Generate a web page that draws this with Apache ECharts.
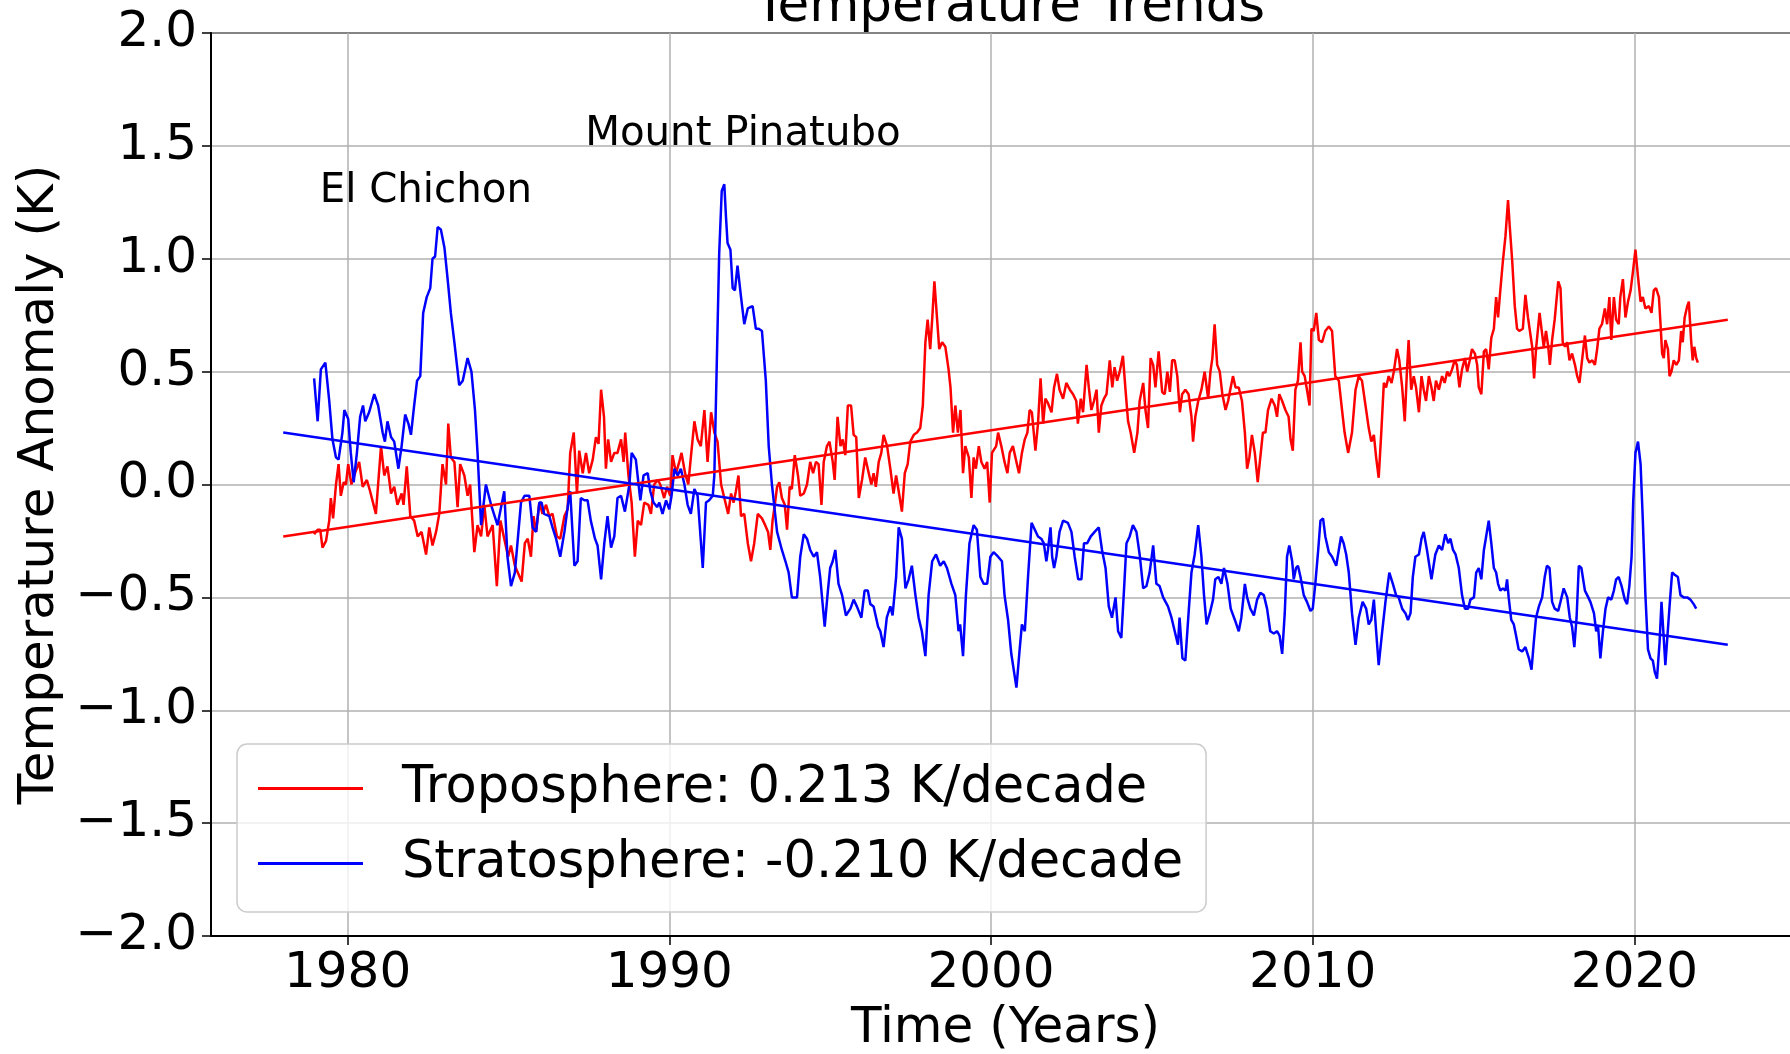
<!DOCTYPE html>
<html><head><meta charset="utf-8">
<script src="https://cdn.jsdelivr.net/npm/echarts@6/dist/echarts.min.js"></script>
<style>html,body{margin:0;padding:0;background:#fff}#chart{width:1790px;height:1054px}</style>
</head><body><div id="chart"></div>
<script>
// ---- tick labels ----
const xTicks = [1980, 1990, 2000, 2010, 2020];
const yTicks = [-2.0, -1.5, -1.0, -0.5, 0.0, 0.5, 1.0, 1.5, 2.0];

// ---- series names ----
const tropName = 'Troposphere: 0.213 K/decade';
const stratName = 'Stratosphere: -0.210 K/decade';

// ---- troposphere anomaly (K) ----
const tropYears = [
1978.96,1979.07,1979.15,1979.22,1979.33,1979.43,1979.48,1979.55,1979.64,1979.72,
1979.79,1979.88,1979.95,1980.02,1980.12,1980.23,1980.36,1980.47,1980.60,1980.70,
1980.88,1981.04,1981.14,1981.24,1981.35,1981.45,1981.55,1981.68,1981.74,1981.84,
1981.95,1982.07,1982.18,1982.30,1982.44,1982.54,1982.64,1982.75,1982.85,1982.95,
1983.06,1983.13,1983.21,1983.32,1983.42,1983.50,1983.63,1983.73,1983.81,1983.94,
1984.04,1984.15,1984.25,1984.35,1984.51,1984.64,1984.75,1984.87,1984.99,1985.08,
1985.20,1985.41,1985.51,1985.60,1985.70,1985.78,1985.86,1985.96,1986.06,1986.17,
1986.27,1986.37,1986.51,1986.61,1986.74,1986.84,1986.92,1987.03,1987.13,1987.20,
1987.31,1987.41,1987.51,1987.62,1987.72,1987.80,1987.88,1987.97,1988.03,1988.10,
1988.19,1988.29,1988.39,1988.50,1988.58,1988.63,1988.73,1988.83,1988.93,1989.02,
1989.12,1989.22,1989.35,1989.43,1989.53,1989.64,1989.72,1989.84,1989.93,1990.03,
1990.10,1990.21,1990.31,1990.38,1990.49,1990.59,1990.67,1990.78,1990.88,1990.98,
1991.09,1991.19,1991.30,1991.40,1991.50,1991.61,1991.71,1991.83,1991.92,1992.00,
1992.07,1992.15,1992.23,1992.33,1992.44,1992.54,1992.64,1992.75,1992.88,1992.98,
1993.07,1993.14,1993.21,1993.27,1993.35,1993.42,1993.50,1993.59,1993.66,1993.74,
1993.81,1993.90,1994.00,1994.07,1994.18,1994.28,1994.38,1994.47,1994.56,1994.64,
1994.73,1994.80,1994.90,1994.98,1995.08,1995.14,1995.23,1995.32,1995.39,1995.47,
1995.55,1995.65,1995.73,1995.81,1995.89,1995.99,1996.09,1996.20,1996.28,1996.35,
1996.42,1996.51,1996.59,1996.66,1996.77,1996.87,1996.97,1997.05,1997.13,1997.23,
1997.32,1997.41,1997.49,1997.60,1997.70,1997.80,1997.88,1997.96,1998.03,1998.11,
1998.17,1998.24,1998.32,1998.39,1998.48,1998.58,1998.68,1998.74,1998.82,1998.89,
1998.97,1999.05,1999.13,1999.20,1999.31,1999.39,1999.46,1999.53,1999.62,1999.70,
1999.80,1999.88,1999.96,2000.03,2000.16,2000.22,2000.32,2000.42,2000.51,2000.58,
2000.68,2000.79,2000.87,2000.96,2001.05,2001.13,2001.20,2001.27,2001.38,2001.46,
2001.54,2001.62,2001.69,2001.77,2001.88,2001.96,2002.05,2002.13,2002.24,2002.34,
2002.45,2002.55,2002.65,2002.70,2002.79,2002.86,2002.97,2003.04,2003.12,2003.20,
2003.28,2003.35,2003.43,2003.51,2003.59,2003.69,2003.77,2003.84,2003.92,2004.00,
2004.10,2004.18,2004.26,2004.34,2004.45,2004.55,2004.62,2004.73,2004.80,2004.88,
2004.96,2005.04,2005.11,2005.21,2005.32,2005.40,2005.48,2005.56,2005.63,2005.71,
2005.79,2005.87,2005.94,2006.04,2006.14,2006.23,2006.28,2006.35,2006.44,2006.54,
2006.64,2006.75,2006.82,2006.88,2006.95,2007.03,2007.11,2007.19,2007.29,2007.37,
2007.45,2007.52,2007.60,2007.70,2007.80,2007.89,2007.96,2008.03,2008.11,2008.20,
2008.29,2008.37,2008.45,2008.53,2008.61,2008.72,2008.82,2008.89,2008.96,2009.05,
2009.15,2009.25,2009.31,2009.38,2009.46,2009.54,2009.62,2009.67,2009.75,2009.82,
2009.90,2009.96,2010.03,2010.11,2010.19,2010.29,2010.39,2010.50,2010.60,2010.70,
2010.81,2010.91,2010.99,2011.10,2011.22,2011.33,2011.43,2011.53,2011.64,2011.74,
2011.82,2011.90,2011.97,2012.05,2012.13,2012.21,2012.28,2012.36,2012.45,2012.52,
2012.62,2012.69,2012.78,2012.86,2012.93,2012.98,2013.06,2013.14,2013.21,2013.30,
2013.38,2013.45,2013.52,2013.61,2013.69,2013.76,2013.83,2013.92,2014.02,2014.10,
2014.18,2014.25,2014.33,2014.41,2014.48,2014.56,2014.64,2014.73,2014.80,2014.88,
2014.95,2015.04,2015.11,2015.16,2015.24,2015.32,2015.39,2015.47,2015.55,2015.63,
2015.70,2015.76,2015.83,2015.91,2015.99,2016.07,2016.12,2016.20,2016.28,2016.35,
2016.42,2016.53,2016.61,2016.69,2016.77,2016.82,2016.88,2016.94,2017.05,2017.11,
2017.18,2017.25,2017.32,2017.37,2017.44,2017.52,2017.63,2017.70,2017.77,2017.84,
2017.91,2017.98,2018.06,2018.15,2018.22,2018.29,2018.37,2018.46,2018.53,2018.60,
2018.69,2018.77,2018.84,2018.91,2018.99,2019.08,2019.15,2019.22,2019.28,2019.36,
2019.43,2019.51,2019.56,2019.64,2019.72,2019.80,2019.88,2019.95,2020.03,2020.11,
2020.19,2020.26,2020.34,2020.45,2020.53,2020.60,2020.67,2020.76,2020.81,2020.86,
2020.91,2020.96,2021.04,2021.09,2021.15,2021.22,2021.30,2021.38,2021.45,2021.50,
2021.56,2021.64,2021.69,2021.76,2021.81,2021.86,2021.92,2021.97
];
const tropValues = [
-0.22,-0.20,-0.20,-0.28,-0.25,-0.16,-0.06,-0.15,0.00,0.09,
-0.05,0.01,0.00,0.09,0.00,0.05,0.10,-0.01,0.02,-0.03,
-0.13,0.17,0.04,0.08,-0.04,-0.01,-0.09,-0.04,-0.09,0.08,
-0.14,-0.16,-0.23,-0.21,-0.31,-0.19,-0.27,-0.21,-0.13,0.09,
0.00,0.27,0.12,0.10,-0.10,0.09,0.04,-0.05,0.00,-0.30,
-0.18,-0.23,-0.09,-0.23,-0.18,-0.45,-0.16,-0.24,-0.32,-0.27,
-0.36,-0.43,-0.26,-0.24,-0.32,-0.14,-0.21,-0.08,-0.13,-0.09,
-0.14,-0.13,-0.23,-0.24,-0.14,-0.11,0.14,0.23,-0.04,0.15,
0.05,0.14,0.05,0.11,0.21,0.18,0.42,0.30,0.07,0.20,
0.10,0.14,0.14,0.20,0.10,0.23,0.04,-0.08,-0.32,-0.16,
-0.18,-0.08,-0.09,-0.13,0.00,0.02,0.00,-0.06,-0.01,-0.05,
0.13,0.05,0.10,0.14,0.05,0.00,0.12,0.28,0.20,0.17,
0.33,0.10,0.32,0.23,0.19,0.00,-0.06,-0.13,-0.04,-0.08,
-0.03,0.04,-0.14,-0.13,-0.26,-0.34,-0.26,-0.13,-0.15,-0.18,
-0.21,-0.29,-0.16,-0.10,-0.01,0.01,-0.06,-0.09,-0.20,-0.01,
-0.02,0.13,0.04,-0.05,-0.04,0.00,0.10,0.05,0.10,0.09,
-0.09,0.10,0.17,0.19,0.10,0.02,0.30,0.17,0.20,0.13,
0.35,0.35,0.22,0.21,-0.06,0.02,0.12,0.05,0.00,0.05,
-0.01,0.10,0.14,0.22,0.17,0.07,-0.04,0.04,-0.03,-0.12,
0.05,0.09,0.19,0.22,0.23,0.25,0.35,0.63,0.73,0.60,
0.73,0.90,0.74,0.60,0.63,0.61,0.51,0.43,0.23,0.35,
0.23,0.33,0.05,0.17,0.12,-0.06,0.12,0.07,0.17,0.10,
0.07,0.10,-0.08,0.14,0.17,0.23,0.17,0.10,0.05,0.14,
0.17,0.10,0.05,0.14,0.20,0.23,0.33,0.32,0.15,0.27,
0.47,0.27,0.38,0.36,0.32,0.43,0.49,0.42,0.38,0.45,
0.42,0.40,0.37,0.27,0.38,0.32,0.53,0.43,0.33,0.37,
0.42,0.23,0.35,0.38,0.40,0.55,0.43,0.52,0.46,0.50,
0.57,0.42,0.28,0.23,0.14,0.23,0.37,0.45,0.33,0.25,
0.56,0.53,0.43,0.59,0.41,0.40,0.50,0.41,0.55,0.55,
0.48,0.32,0.40,0.42,0.40,0.30,0.19,0.30,0.37,0.42,
0.50,0.38,0.50,0.56,0.71,0.53,0.50,0.40,0.33,0.37,
0.43,0.48,0.43,0.43,0.37,0.23,0.07,0.12,0.22,0.14,
0.01,0.12,0.23,0.23,0.33,0.38,0.35,0.30,0.40,0.37,
0.33,0.30,0.20,0.15,0.42,0.46,0.63,0.50,0.48,0.42,
0.35,0.69,0.68,0.76,0.64,0.63,0.68,0.70,0.68,0.48,
0.46,0.33,0.23,0.14,0.23,0.42,0.48,0.46,0.35,0.25,
0.19,0.22,0.12,0.03,0.23,0.45,0.43,0.48,0.45,0.50,
0.60,0.55,0.43,0.28,0.51,0.64,0.42,0.48,0.43,0.32,
0.48,0.42,0.37,0.48,0.43,0.37,0.46,0.42,0.48,0.45,
0.50,0.48,0.51,0.55,0.53,0.43,0.51,0.56,0.50,0.55,
0.60,0.58,0.53,0.43,0.40,0.59,0.60,0.51,0.65,0.69,
0.83,0.74,0.86,0.99,1.10,1.26,1.15,0.99,0.79,0.69,
0.68,0.69,0.84,0.74,0.66,0.61,0.47,0.60,0.76,0.69,
0.61,0.68,0.61,0.53,0.64,0.73,0.90,0.87,0.63,0.61,
0.63,0.55,0.58,0.53,0.48,0.45,0.55,0.66,0.56,0.54,
0.55,0.53,0.60,0.69,0.71,0.78,0.71,0.83,0.64,0.83,
0.73,0.71,0.83,0.91,0.74,0.81,0.86,0.94,1.04,0.92,
0.81,0.83,0.78,0.79,0.76,0.86,0.87,0.83,0.71,0.58,
0.56,0.64,0.60,0.48,0.50,0.55,0.53,0.55,0.68,0.63,
0.74,0.79,0.81,0.64,0.55,0.61,0.56,0.54
];

// ---- stratosphere anomaly (K) ----
const stratYears = [
1978.96,1979.07,1979.17,1979.31,1979.43,1979.53,1979.64,1979.72,1979.84,1979.90,
1980.02,1980.10,1980.19,1980.29,1980.39,1980.48,1980.55,1980.67,1980.83,1980.95,
1981.09,1981.16,1981.24,1981.35,1981.45,1981.58,1981.68,1981.79,1981.89,1981.97,
1982.07,1982.16,1982.26,1982.35,1982.46,1982.57,1982.64,1982.72,1982.80,1982.90,
1983.01,1983.11,1983.21,1983.32,1983.47,1983.58,1983.73,1983.85,1983.96,1984.04,
1984.15,1984.30,1984.46,1984.66,1984.87,1984.97,1985.08,1985.20,1985.39,1985.50,
1985.65,1985.75,1985.86,1985.96,1986.03,1986.11,1986.27,1986.37,1986.48,1986.61,
1986.74,1986.86,1986.92,1987.05,1987.15,1987.25,1987.36,1987.46,1987.56,1987.69,
1987.77,1987.88,1987.98,1988.08,1988.19,1988.29,1988.39,1988.50,1988.62,1988.76,
1988.83,1988.96,1989.10,1989.20,1989.33,1989.41,1989.51,1989.62,1989.69,1989.79,
1989.90,1990.00,1990.07,1990.16,1990.26,1990.36,1990.47,1990.57,1990.67,1990.78,
1990.88,1991.04,1991.14,1991.24,1991.35,1991.40,1991.47,1991.55,1991.63,1991.71,
1991.76,1991.81,1991.90,1991.97,1992.04,1992.12,1992.23,1992.33,1992.44,1992.59,
1992.69,1992.78,1992.88,1993.00,1993.09,1993.19,1993.35,1993.50,1993.61,1993.71,
1993.81,1993.97,1994.07,1994.18,1994.28,1994.38,1994.49,1994.59,1994.69,1994.83,
1994.93,1995.00,1995.08,1995.16,1995.26,1995.37,1995.49,1995.63,1995.73,1995.83,
1995.97,1996.07,1996.17,1996.25,1996.35,1996.49,1996.56,1996.66,1996.76,1996.87,
1996.94,1997.05,1997.13,1997.23,1997.34,1997.44,1997.54,1997.65,1997.75,1997.85,
1997.96,1998.06,1998.17,1998.29,1998.42,1998.53,1998.63,1998.77,1998.89,1998.99,
1999.04,1999.13,1999.22,1999.33,1999.46,1999.56,1999.67,1999.77,1999.88,1999.98,
2000.08,2000.15,2000.22,2000.34,2000.42,2000.53,2000.63,2000.79,2000.89,2000.96,
2001.05,2001.15,2001.26,2001.36,2001.46,2001.56,2001.64,2001.72,2001.77,2001.85,
2001.90,2001.96,2002.03,2002.13,2002.24,2002.39,2002.50,2002.60,2002.71,2002.81,
2002.89,2002.99,2003.10,2003.22,2003.35,2003.45,2003.56,2003.66,2003.76,2003.87,
2003.95,2004.05,2004.14,2004.21,2004.31,2004.41,2004.52,2004.62,2004.73,2004.83,
2004.93,2005.04,2005.14,2005.24,2005.35,2005.50,2005.61,2005.71,2005.81,2005.86,
2005.95,2006.04,2006.15,2006.23,2006.33,2006.44,2006.54,2006.62,2006.70,2006.80,
2006.90,2006.97,2007.07,2007.16,2007.24,2007.35,2007.45,2007.58,2007.70,2007.78,
2007.89,2007.96,2008.06,2008.17,2008.27,2008.37,2008.48,2008.58,2008.68,2008.79,
2008.89,2008.97,2009.05,2009.13,2009.20,2009.27,2009.36,2009.41,2009.48,2009.54,
2009.62,2009.72,2009.82,2009.93,2010.00,2010.08,2010.17,2010.24,2010.32,2010.39,
2010.50,2010.60,2010.73,2010.81,2010.88,2010.96,2011.04,2011.12,2011.22,2011.33,
2011.43,2011.55,2011.66,2011.74,2011.82,2011.90,2011.97,2012.05,2012.16,2012.26,
2012.38,2012.49,2012.59,2012.67,2012.78,2012.88,2012.96,2013.04,2013.11,2013.19,
2013.30,2013.38,2013.45,2013.55,2013.69,2013.81,2013.92,2014.02,2014.12,2014.21,
2014.28,2014.36,2014.44,2014.54,2014.64,2014.73,2014.83,2014.90,2015.01,2015.08,
2015.16,2015.24,2015.32,2015.39,2015.47,2015.55,2015.63,2015.70,2015.76,2015.83,
2015.91,2015.99,2016.04,2016.09,2016.17,2016.25,2016.32,2016.40,2016.51,2016.61,
2016.72,2016.80,2016.87,2016.94,2017.03,2017.13,2017.21,2017.28,2017.36,2017.44,
2017.52,2017.63,2017.70,2017.80,2017.91,2017.99,2018.06,2018.13,2018.20,2018.27,
2018.35,2018.46,2018.53,2018.63,2018.74,2018.81,2018.87,2018.94,2019.02,2019.10,
2019.18,2019.28,2019.36,2019.43,2019.51,2019.60,2019.70,2019.77,2019.84,2019.91,
2019.96,2020.03,2020.11,2020.19,2020.26,2020.34,2020.42,2020.50,2020.57,2020.63,
2020.70,2020.78,2020.84,2020.91,2020.96,2021.02,2021.09,2021.17,2021.25,2021.35,
2021.43,2021.53,2021.64,2021.74,2021.84,2021.92
];
const stratValues = [
0.47,0.28,0.51,0.54,0.37,0.20,0.12,0.11,0.23,0.33,
0.29,0.14,0.01,0.14,0.30,0.35,0.28,0.32,0.40,0.35,
0.23,0.19,0.28,0.21,0.19,0.07,0.17,0.31,0.27,0.22,
0.35,0.46,0.48,0.76,0.83,0.87,1.00,1.01,1.14,1.13,
1.05,0.91,0.76,0.63,0.44,0.46,0.56,0.50,0.33,0.14,
-0.18,0.00,-0.09,-0.18,-0.03,-0.32,-0.45,-0.39,-0.08,-0.05,
-0.05,-0.19,-0.21,-0.08,-0.08,-0.13,-0.14,-0.19,-0.24,-0.32,
-0.21,-0.08,-0.03,-0.36,-0.34,-0.06,-0.07,-0.07,-0.16,-0.24,
-0.27,-0.42,-0.26,-0.14,-0.28,-0.23,-0.06,-0.05,-0.12,0.00,
0.14,0.11,-0.07,0.04,0.05,-0.03,-0.08,-0.10,-0.08,-0.13,
-0.07,-0.11,-0.05,0.07,0.04,0.07,0.00,-0.09,-0.13,-0.02,
-0.05,-0.37,-0.08,-0.07,-0.05,0.04,0.50,1.02,1.30,1.33,
1.19,1.07,1.04,0.87,0.86,0.97,0.83,0.71,0.78,0.79,
0.69,0.69,0.68,0.46,0.17,0.00,-0.21,-0.29,-0.34,-0.39,
-0.50,-0.50,-0.32,-0.22,-0.24,-0.29,-0.32,-0.30,-0.41,-0.63,
-0.47,-0.37,-0.34,-0.29,-0.44,-0.49,-0.58,-0.55,-0.51,-0.54,
-0.59,-0.47,-0.47,-0.53,-0.54,-0.63,-0.65,-0.72,-0.59,-0.54,
-0.58,-0.41,-0.19,-0.24,-0.46,-0.42,-0.36,-0.49,-0.59,-0.65,
-0.76,-0.49,-0.34,-0.31,-0.36,-0.34,-0.37,-0.44,-0.49,-0.65,
-0.62,-0.76,-0.49,-0.26,-0.18,-0.20,-0.41,-0.44,-0.44,-0.32,
-0.30,-0.31,-0.32,-0.34,-0.49,-0.60,-0.75,-0.90,-0.73,-0.62,
-0.65,-0.41,-0.17,-0.20,-0.23,-0.24,-0.26,-0.34,-0.29,-0.19,
-0.32,-0.37,-0.32,-0.21,-0.16,-0.17,-0.21,-0.32,-0.42,-0.42,
-0.26,-0.26,-0.23,-0.21,-0.19,-0.29,-0.37,-0.54,-0.59,-0.50,
-0.65,-0.68,-0.45,-0.26,-0.23,-0.18,-0.21,-0.31,-0.46,-0.45,
-0.39,-0.27,-0.44,-0.45,-0.50,-0.54,-0.59,-0.65,-0.71,-0.59,
-0.77,-0.78,-0.55,-0.39,-0.31,-0.18,-0.32,-0.49,-0.62,-0.57,
-0.51,-0.42,-0.41,-0.44,-0.37,-0.44,-0.55,-0.60,-0.65,-0.59,
-0.44,-0.50,-0.55,-0.58,-0.51,-0.48,-0.49,-0.55,-0.65,-0.66,
-0.65,-0.67,-0.75,-0.57,-0.32,-0.27,-0.34,-0.42,-0.37,-0.36,
-0.41,-0.49,-0.52,-0.56,-0.55,-0.44,-0.29,-0.16,-0.15,-0.23,
-0.30,-0.32,-0.36,-0.29,-0.23,-0.26,-0.31,-0.39,-0.57,-0.71,
-0.59,-0.52,-0.55,-0.62,-0.60,-0.51,-0.65,-0.80,-0.65,-0.52,
-0.39,-0.44,-0.49,-0.50,-0.55,-0.57,-0.60,-0.57,-0.41,-0.32,
-0.31,-0.24,-0.21,-0.29,-0.42,-0.31,-0.27,-0.29,-0.22,-0.26,
-0.24,-0.29,-0.31,-0.37,-0.49,-0.55,-0.55,-0.51,-0.50,-0.39,
-0.37,-0.42,-0.29,-0.23,-0.16,-0.26,-0.37,-0.39,-0.44,-0.47,
-0.46,-0.47,-0.42,-0.50,-0.60,-0.62,-0.67,-0.73,-0.74,-0.72,
-0.77,-0.82,-0.70,-0.59,-0.54,-0.50,-0.41,-0.36,-0.37,-0.52,
-0.55,-0.56,-0.52,-0.46,-0.50,-0.59,-0.63,-0.72,-0.59,-0.36,
-0.37,-0.47,-0.49,-0.52,-0.57,-0.65,-0.63,-0.77,-0.65,-0.55,
-0.50,-0.51,-0.47,-0.42,-0.41,-0.45,-0.51,-0.53,-0.45,-0.32,
-0.08,0.14,0.19,0.09,-0.16,-0.49,-0.73,-0.77,-0.78,-0.83,
-0.86,-0.70,-0.52,-0.68,-0.80,-0.68,-0.54,-0.39,-0.40,-0.41,
-0.49,-0.50,-0.50,-0.51,-0.53,-0.55
];

// ---- linear trend end points ----
const trendYears = [1978.0, 2022.9];
const tropTrend = [-0.23, 0.73];
const stratTrend = [0.23, -0.71];

// ---- annotations (text, year, value at baseline) ----
const annoTexts = ['El Chichon', 'Mount Pinatubo'];
const annoYears = [1979.15, 1987.4];
const annoValues = [1.25, 1.5];

const FONT = 'DejaVu Sans';
const RED = '#ff0000', BLUE = '#0000ff';
const zip = (xs, ys) => xs.slice(0, Math.min(xs.length, ys.length)).map((x, i) => [x, ys[i]]);
const fmtY = v => (v < 0 ? '\u2212' : '') + Math.abs(v).toFixed(1);

const chart = echarts.init(document.getElementById('chart'), null, {renderer: 'canvas'});
const option = {
  animation: false,
  backgroundColor: '#ffffff',
  textStyle: {fontFamily: FONT},
  grid: {
    left: 211, top: 33, width: 1589, height: 903,
    show: true, borderColor: '#000', borderWidth: 2, backgroundColor: 'transparent',
    containLabel: false, outerBoundsMode: 'none'
  },
  graphic: [{
    type: 'text', x: 1010, y: 8, z: 100,
    style: {text: 'Temperature Trends', fontSize: 51.5, fontFamily: FONT, fill: '#000',
      align: 'center', verticalAlign: 'middle', textAlign: 'center', textVerticalAlign: 'middle'}
  }],
  legend: {
    show: true, orient: 'vertical', left: 237, top: 744,
    data: [tropName, stratName],
    icon: 'rect', itemWidth: 105, itemHeight: 3, itemGap: 24,
    padding: [19, 23, 23, 21],
    backgroundColor: 'rgba(255,255,255,0.8)', borderColor: '#cccccc', borderWidth: 1.5, borderRadius: 10,
    textStyle: {fontFamily: FONT, fontSize: 51, color: '#000', padding: [0, 0, 0, 34], lineHeight: 50},
    selectedMode: false, z: 10
  },
  xAxis: {
    type: 'value', min: 1975.755, max: 2025.145,
    name: 'Time (Years)', nameLocation: 'middle', nameGap: 67,
    nameTextStyle: {fontFamily: FONT, fontSize: 50, color: '#000'},
    axisLine: {show: true, onZero: false, lineStyle: {color: '#000', width: 2}},
    axisTick: {show: true, inside: false, length: 9, customValues: xTicks, lineStyle: {color: '#000', width: 1.5}},
    axisLabel: {show: true, customValues: xTicks, margin: 13, fontFamily: FONT, fontSize: 50, color: '#000',
      formatter: v => String(Math.round(v))},
    splitLine: {show: true, lineStyle: {color: '#b0b0b0', width: 1.5}}
  },
  yAxis: {
    type: 'value', min: -2, max: 2, interval: 0.5,
    name: 'Temperature Anomaly (K)', nameLocation: 'middle', nameGap: 145, nameRotate: 90,
    nameTextStyle: {fontFamily: FONT, fontSize: 50, color: '#000'},
    axisLine: {show: true, onZero: false, lineStyle: {color: '#000', width: 2}},
    axisTick: {show: true, inside: false, length: 9, lineStyle: {color: '#000', width: 1.5}},
    axisLabel: {show: true, margin: 14, fontFamily: FONT, fontSize: 50, color: '#000', formatter: fmtY},
    splitLine: {show: true, lineStyle: {color: '#b0b0b0', width: 1.5}}
  },
  series: [
    {name: tropName, type: 'line', data: zip(tropYears, tropValues), symbol: 'none', showSymbol: false,
      color: RED, itemStyle: {color: RED}, lineStyle: {color: RED, width: 2.5}, z: 3},
    {name: stratName, type: 'line', data: zip(stratYears, stratValues), symbol: 'none', showSymbol: false,
      color: BLUE, itemStyle: {color: BLUE}, lineStyle: {color: BLUE, width: 2.5}, z: 3},
    {name: 'tropTrend', type: 'line', data: zip(trendYears, tropTrend), symbol: 'none', showSymbol: false,
      color: RED, lineStyle: {color: RED, width: 2.5}, z: 4},
    {name: 'stratTrend', type: 'line', data: zip(trendYears, stratTrend), symbol: 'none', showSymbol: false,
      color: BLUE, lineStyle: {color: BLUE, width: 2.5}, z: 4},
    {name: 'annotations', type: 'scatter', symbolSize: 1, silent: true, z: 5,
      itemStyle: {color: 'rgba(0,0,0,0)', opacity: 1},
      data: annoTexts.map((t, i) => ({name: t, value: [annoYears[i], annoValues[i]]})),
      label: {show: true, formatter: '{b}', position: [0, 0], align: 'left', verticalAlign: 'middle',
        offset: [0, -10.5], fontFamily: FONT, fontSize: 40.3, color: '#000', opacity: 1}}
  ]
};
chart.setOption(option);
</script>
</body></html>
